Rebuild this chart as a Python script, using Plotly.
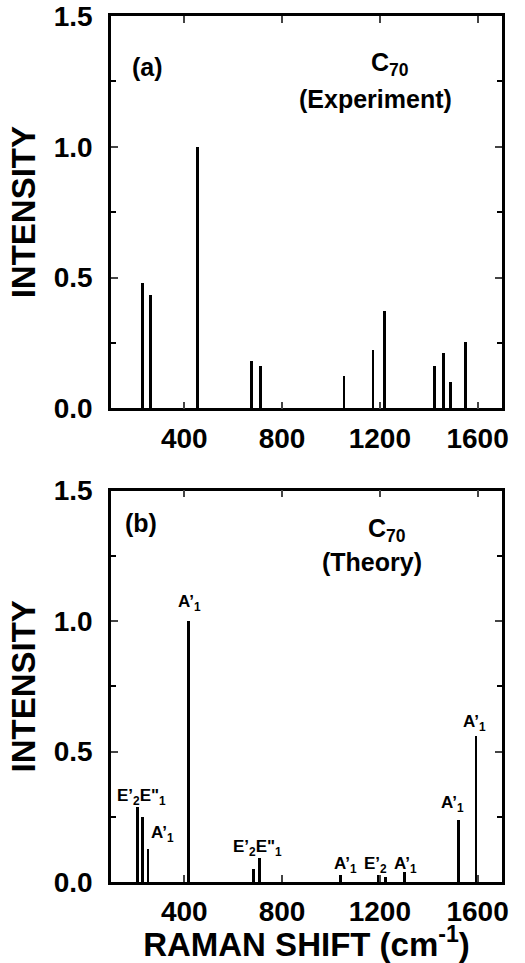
import plotly.graph_objects as go
from plotly.subplots import make_subplots

# Panel (a) experiment
exp_shift = [229, 262, 453, 675, 713, 1054, 1172, 1220, 1425, 1460, 1490, 1552]
exp_int = [0.48, 0.433, 1.0, 0.182, 0.162, 0.122, 0.224, 0.373, 0.163, 0.211, 0.102, 0.252]

# Panel (b) theory
th_shift = [208, 230, 251, 418, 682, 707, 1040, 1194, 1222, 1300, 1523, 1593]
th_int = [0.29, 0.252, 0.13, 1.0, 0.051, 0.092, 0.029, 0.029, 0.019, 0.041, 0.24, 0.563]

# Mode labels (theory)
lab_text = ["E’<sub>2</sub>E\"<sub>1</sub>", "A’<sub>1</sub>", "A’<sub>1</sub>",
            "E’<sub>2</sub>E\"<sub>1</sub>", "A’<sub>1</sub>", "E’<sub>2</sub>",
            "A’<sub>1</sub>", "A’<sub>1</sub>", "A’<sub>1</sub>"]
lab_x = [226, 310, 422, 699, 1061, 1182, 1306, 1497, 1586]
lab_y = [0.325, 0.185, 1.068, 0.13, 0.064, 0.064, 0.064, 0.30, 0.608]

x_ticks = [400, 800, 1200, 1600]
y_ticks = [0.0, 0.5, 1.0, 1.5]

FONT = "Liberation Sans, Arial, Helvetica, sans-serif"

fig = make_subplots(rows=2, cols=1, vertical_spacing=0.0)

fig.add_trace(go.Bar(x=exp_shift, y=exp_int, width=11, marker=dict(color="black", line_width=0),
                     showlegend=False), row=1, col=1)
fig.add_trace(go.Bar(x=th_shift, y=th_int, width=11, marker=dict(color="black", line_width=0),
                     showlegend=False), row=2, col=1)

xcommon = dict(range=[100, 1700], tickvals=x_ticks, ticks="inside", ticklen=7, tickwidth=2,
               showline=True, linewidth=2.5, linecolor="black", mirror="allticks",
               showgrid=False, zeroline=False, tickfont=dict(size=28, family=FONT, weight="bold"),
               ticklabelstandoff=3, automargin=False)
ycommon = dict(range=[0, 1.5], tickvals=y_ticks, ticktext=["0.0", "0.5", "1.0", "1.5"],
               ticks="inside", ticklen=7, tickwidth=2,
               minor=dict(dtick=0.25, ticks="inside", ticklen=5, tickwidth=2, tickcolor="black"),
               showline=True, linewidth=2.5, linecolor="black", mirror="allticks",
               showgrid=False, zeroline=False, tickfont=dict(size=28, family=FONT, weight="bold"),
               ticklabelstandoff=10, automargin=False,
               title=dict(text="INTENSITY", font=dict(size=33, family=FONT, weight="bold"), standoff=9))

fig.update_xaxes(**xcommon)
fig.update_yaxes(**ycommon)
fig.update_xaxes(domain=[0, 1])
fig.layout.yaxis.domain = [0.547, 1.0]
fig.layout.yaxis2.domain = [0.0, 0.452]
fig.layout.xaxis2.title = dict(text="RAMAN SHIFT (cm<sup>-1</sup>)",
                               font=dict(size=33, family=FONT, weight="bold"), standoff=9)

ann = []
tfont = dict(size=25, family=FONT, color="black", weight="bold")
ann.append(dict(x=251, y=1.306, xref="x", yref="y", text="(a)", showarrow=False, font=tfont))
ann.append(dict(x=1242, y=1.317, xref="x", yref="y", text="C<sub>70</sub>", showarrow=False, font=tfont))
ann.append(dict(x=1184, y=1.183, xref="x", yref="y", text="(Experiment)", showarrow=False, font=tfont))
ann.append(dict(x=222, y=1.375, xref="x2", yref="y2", text="(b)", showarrow=False, font=tfont))
ann.append(dict(x=1228, y=1.349, xref="x2", yref="y2", text="C<sub>70</sub>", showarrow=False, font=tfont))
ann.append(dict(x=1167, y=1.228, xref="x2", yref="y2", text="(Theory)", showarrow=False, font=tfont))
lfont = dict(size=17, family=FONT, color="black", weight="bold")
for t, x, y in zip(lab_text, lab_x, lab_y):
    ann.append(dict(x=x, y=y, xref="x2", yref="y2", text=t, showarrow=False, font=lfont))

fig.update_layout(width=525, height=963, margin=dict(l=111, r=23, t=16, b=81),
                  paper_bgcolor="white", plot_bgcolor="white", bargap=0,
                  font=dict(family=FONT, color="black", weight="bold"),
                  annotations=ann)

fig.write_html("out.html", config={"displayModeBar": False},
               post_script="document.body.style.margin='0';")
